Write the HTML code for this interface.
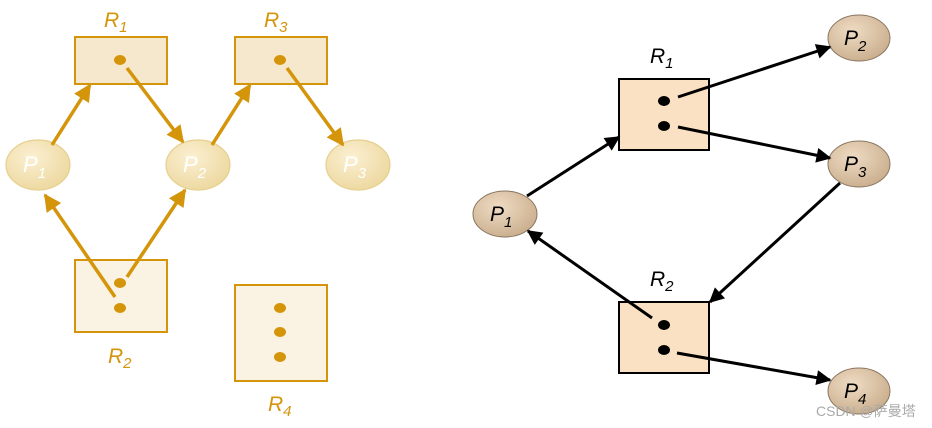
<!DOCTYPE html>
<html><head><meta charset="utf-8"><style>body{margin:0;background:#fff}svg{display:block}</style></head><body>
<svg width="932" height="428" viewBox="0 0 932 428" xmlns="http://www.w3.org/2000/svg" font-family="Liberation Sans, sans-serif" font-style="italic">
<defs>
<radialGradient id="gy" cx="40%" cy="35%" r="70%"><stop offset="0" stop-color="#fbf0d2"/><stop offset="1" stop-color="#ecd79e"/></radialGradient>
<radialGradient id="gb" cx="40%" cy="35%" r="70%"><stop offset="0" stop-color="#efdcc4"/><stop offset="1" stop-color="#c9ad8c"/></radialGradient>
<marker id="ay" viewBox="0 0 10 10" refX="9" refY="5" markerWidth="5.5" markerHeight="5" orient="auto" markerUnits="strokeWidth"><path d="M0,0L10,5L0,10z" fill="#d4950b"/></marker>
<marker id="ab" viewBox="0 0 10 10" refX="9" refY="5" markerWidth="7" markerHeight="5" orient="auto" markerUnits="strokeWidth"><path d="M0,0L10,5L0,10z" fill="#000"/></marker>
</defs>
<g stroke="#d4950b" stroke-width="2" fill="#f6e8cc">
<rect x="75" y="37" width="92" height="47"/><rect x="235" y="37" width="92" height="47"/>
<rect x="75" y="260" width="92" height="72" fill="#faf2e2"/><rect x="235" y="285" width="92" height="96" fill="#faf2e2"/>
</g>
<g fill="url(#gy)" stroke="#e6cf8e" stroke-width="1.2">
<ellipse cx="38" cy="165" rx="32" ry="25"/><ellipse cx="198" cy="165" rx="32" ry="25"/><ellipse cx="358" cy="165" rx="32" ry="25"/>
</g>
<g fill="#d4950b"><ellipse cx="120" cy="60" rx="6" ry="5"/><ellipse cx="280" cy="60" rx="6" ry="5"/><ellipse cx="120" cy="283" rx="6" ry="5"/><ellipse cx="120" cy="308" rx="6" ry="5"/><ellipse cx="280" cy="308" rx="6" ry="5"/><ellipse cx="280" cy="332" rx="6" ry="5"/><ellipse cx="280" cy="357" rx="6" ry="5"/></g>
<g stroke="#d4950b" stroke-width="3.5" marker-end="url(#ay)">
<line x1="52" y1="145" x2="90" y2="85"/><line x1="127" y1="68" x2="183" y2="142"/><line x1="212" y1="145" x2="250" y2="85"/><line x1="287" y1="68" x2="343" y2="145"/><line x1="115" y1="297" x2="45" y2="195"/><line x1="127" y1="277" x2="185" y2="190"/>
</g>
<g fill="#d4950b" font-size="21">
<text x="104" y="27">R<tspan font-size="15" dy="5">1</tspan></text>
<text x="264" y="27">R<tspan font-size="15" dy="5">3</tspan></text>
<text x="108" y="363">R<tspan font-size="15" dy="5">2</tspan></text>
<text x="268" y="411">R<tspan font-size="15" dy="5">4</tspan></text>
</g>
<g fill="#fff" font-size="22"><text x="23" y="172">P<tspan font-size="15" dy="6">1</tspan></text><text x="183" y="172">P<tspan font-size="15" dy="6">2</tspan></text><text x="343" y="172">P<tspan font-size="15" dy="6">3</tspan></text></g>
<g stroke="#000" stroke-width="2" fill="#fbe1c3"><rect x="619" y="79" width="90" height="71"/><rect x="619" y="302" width="90" height="71"/></g>
<g fill="url(#gb)" stroke="#8a7560" stroke-width="1">
<ellipse cx="505" cy="214" rx="32" ry="23"/><ellipse cx="859" cy="38" rx="31" ry="23"/><ellipse cx="859" cy="164" rx="31" ry="23"/><ellipse cx="859" cy="391" rx="31" ry="23"/>
</g>
<g fill="#000"><ellipse cx="664" cy="101" rx="6" ry="5"/><ellipse cx="664" cy="126" rx="6" ry="5"/><ellipse cx="664" cy="325" rx="6" ry="5"/><ellipse cx="664" cy="350" rx="6" ry="5"/></g>
<g stroke="#000" stroke-width="3" marker-end="url(#ab)">
<line x1="527" y1="196" x2="619" y2="137"/><line x1="678" y1="97" x2="830" y2="47"/><line x1="678" y1="127" x2="830" y2="158"/><line x1="840" y1="183" x2="710" y2="302"/><line x1="652" y1="318" x2="528" y2="231"/><line x1="677" y1="353" x2="830" y2="380"/>
</g>
<g fill="#000" font-size="21">
<text x="650" y="63">R<tspan font-size="15" dy="5">1</tspan></text>
<text x="650" y="286">R<tspan font-size="15" dy="5">2</tspan></text>
<text x="490" y="221">P<tspan font-size="15" dy="6">1</tspan></text>
<text x="844" y="45">P<tspan font-size="15" dy="6">2</tspan></text>
<text x="844" y="171">P<tspan font-size="15" dy="6">3</tspan></text>
<text x="844" y="398">P<tspan font-size="15" dy="6">4</tspan></text>
</g>
<text x="816" y="416" font-style="normal" font-size="14" fill="#aaa" font-family="Liberation Sans, Noto Sans CJK SC, sans-serif">CSDN @萨曼塔</text>
</svg>
</body></html>
